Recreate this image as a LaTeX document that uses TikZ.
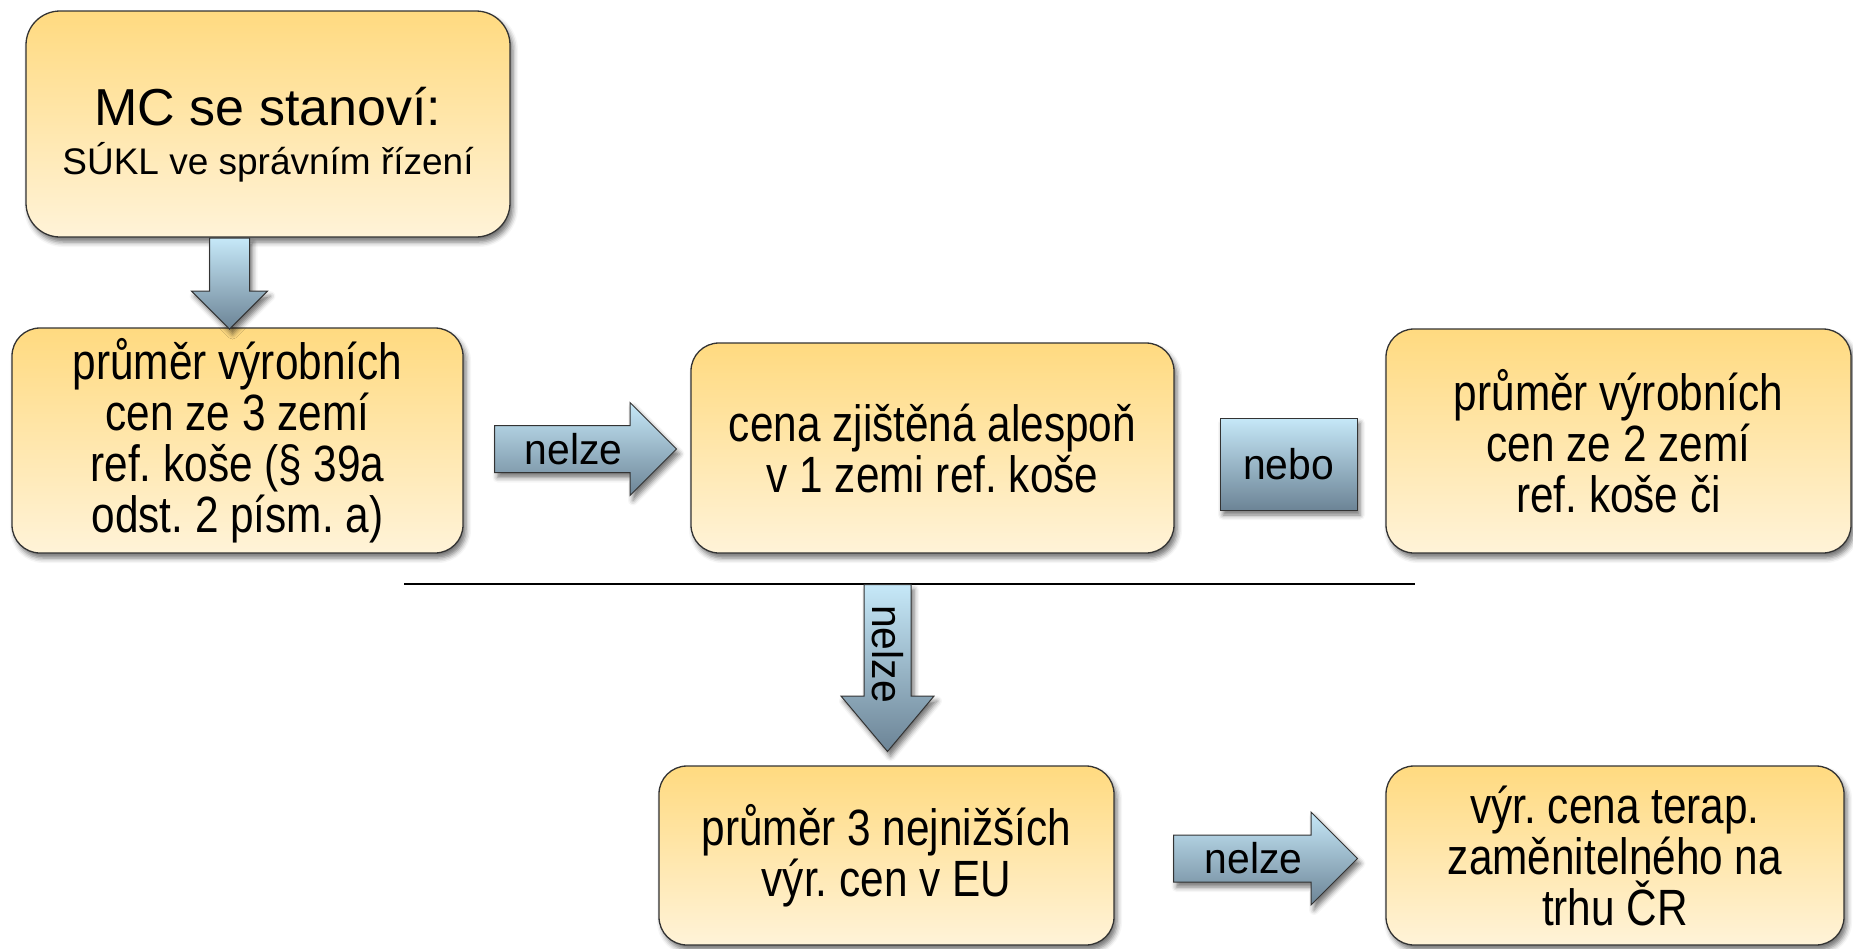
\documentclass[tikz,border=0pt]{standalone}
\usepackage{fontspec}
\setmainfont{Liberation Sans}
\newfontfamily\narrowfont[FakeStretch=0.83]{Liberation Sans}
\newfontfamily\labelfont[FakeStretch=0.95]{Liberation Sans}
\usetikzlibrary{shapes.arrows,shadows.blur}
\frenchspacing

\definecolor{boxtop}{RGB}{255,218,128}
\definecolor{boxbottom}{RGB}{255,243,216}
\definecolor{arrowlight}{RGB}{198,232,248}
\definecolor{arrowdark}{RGB}{108,132,150}

\tikzset{
  soft shadow/.style={blur shadow={shadow xshift=3pt, shadow yshift=-5pt,
      shadow blur radius=5pt, shadow opacity=55}},
  every box/.style={draw=black!80, line width=1.3pt, rounded corners=28pt,
    top color=boxtop, bottom color=boxbottom, align=center, inner sep=0pt,
    soft shadow, font=\narrowfont\fontsize{51}{51}\selectfont},
  every arrow/.style={single arrow, draw=black!80, line width=1pt,
    top color=arrowlight, bottom color=arrowdark, inner sep=0pt,
    single arrow head extend=23pt, minimum width=92pt,
    text height=38pt, text depth=8pt, anchor=tail, soft shadow,
    font=\labelfont\fontsize{43}{43}\selectfont},
}

\begin{document}
\begin{tikzpicture}[x=1pt, y=-1pt]
  \useasboundingbox (0,0) rectangle (1853,948);

  \node [every box/.try, minimum width=484pt, minimum height=226pt,
    rounded corners=34pt, font=\fontsize{52}{49}\selectfont] (mc) at (268,124)
    {\rule{0pt}{60pt}MC se stanoví:\\{\fontsize{37}{49}\selectfont SÚKL ve správním řízení}};

  \foreach \n/\x/\y/\w/\h/\t in {
      prumer3/237.5/440.5/451/225/{průměr výrobních\\cen ze 3 zemí\\ref. koše (§ 39a\\odst. 2 písm. a)},
      alespon/932.5/448/483/210/{cena zjištěná alespoň\\v 1 zemi ref. koše},
      prumer2/1618.5/441/465/224/{průměr výrobních\\cen ze 2 zemí\\ref. koše či},
      nejnizsi/886.5/855.5/455/179/{průměr 3 nejnižších\\výr. cen v EU},
      terap/1615/855.5/458/179/{výr. cena terap.\\zaměnitelného na\\trhu ČR}}
    \node [every box/.try, minimum width=\w pt, minimum height=\h pt] (\n) at (\x,\y) {\t};

  \node [draw=black!80, line width=1pt, top color=arrowlight, bottom color=arrowdark,
    minimum width=137pt, minimum height=92pt, soft shadow,
    font=\labelfont\fontsize{43}{43}\selectfont] (nebo) at (1288.5,464) {nebo};

  \coordinate (cut-w) at (404,584);
  \coordinate (cut-e) at (1415,584);
  \draw [line width=1.5pt] (cut-w) -- (cut-e);

  \node [every arrow/.try, rotate=-90, minimum height=91pt, minimum width=75pt,
    single arrow head extend=18pt, text height=0pt, text depth=0pt, inner ysep=19.5pt]
    (down) at (mc.south -| 229.5,0) {};
  \node [every arrow/.try, minimum height=182pt] (nelze-1) at (494,449) {nelze};
  \node [every arrow/.try, rotate=-90, minimum height=167pt, single arrow tip angle=80]
    (nelze-2) at (cut-w -| 887.5,0) {nelze};
  \node [every arrow/.try, minimum height=184pt] (nelze-3) at (1173,858.5) {nelze};
\end{tikzpicture}
\end{document}
